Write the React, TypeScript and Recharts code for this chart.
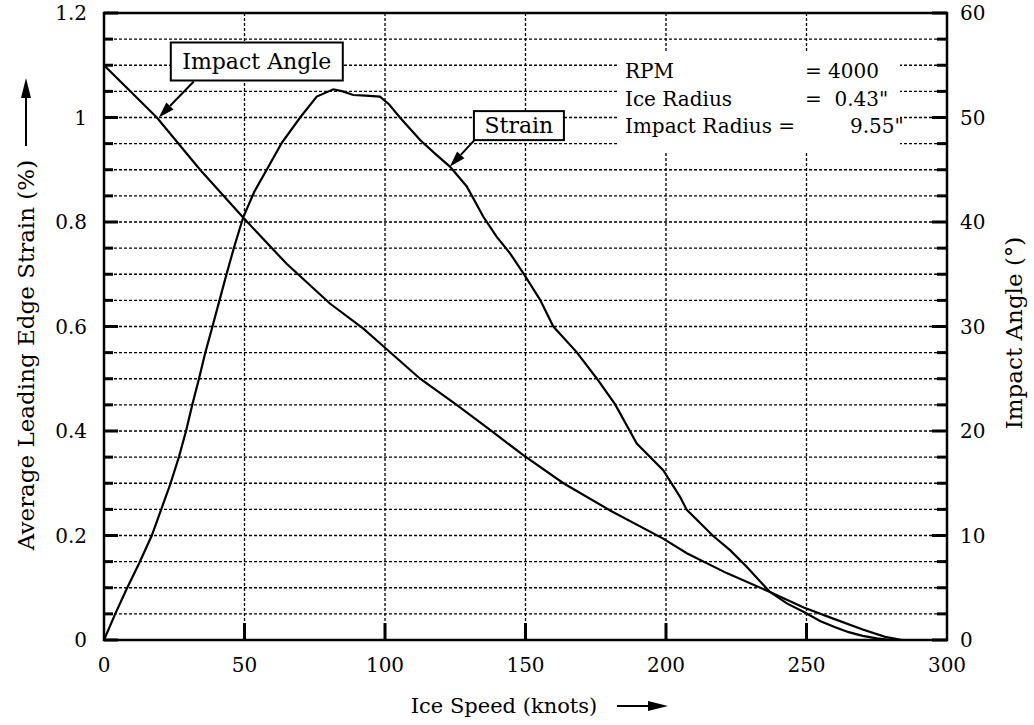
import React from "react";
import {
  LineChart,
  Line,
  XAxis,
  YAxis,
  CartesianGrid,
  ReferenceArea,
  ReferenceDot,
} from "recharts";

const FONT = "'DejaVu Serif', serif";

// Ice speed (knots) vs average leading edge strain (%)
const strainSpeed = [
  0, 4, 8.1, 12.6, 17, 20.3, 23.7, 26.7, 29.2, 31.4, 33.8, 36.1, 38.6, 41.1,
  43.6, 46.2, 49.6, 53.5, 57.9, 63.2, 69.8, 75.7, 81.6, 85, 88.7, 93, 98.2,
  101.5, 105.3, 112.5, 118, 123.1, 129.1, 135, 139.7, 144.5, 149.2, 155.2,
  159.9, 168.2, 175.3, 181.9, 189.6, 199, 205, 207.4, 216.8, 222.8, 228.7, 237,
  243, 248.9, 255, 260, 265, 270, 275, 280, 286,
];
const strainValue = [
  0, 0.05, 0.098, 0.148, 0.2, 0.249, 0.3, 0.351, 0.4, 0.45, 0.5, 0.551, 0.6,
  0.65, 0.7, 0.75, 0.81, 0.858, 0.9, 0.951, 1.0, 1.04, 1.054, 1.05, 1.043,
  1.042, 1.04, 1.025, 1.0, 0.957, 0.93, 0.906, 0.868, 0.81, 0.772, 0.74, 0.702,
  0.651, 0.6, 0.551, 0.501, 0.451, 0.376, 0.325, 0.274, 0.249, 0.199, 0.172,
  0.14, 0.092, 0.07, 0.054, 0.036, 0.025, 0.015, 0.008, 0.003, 0, 0,
];

// Ice speed (knots) vs impact angle (degrees)
const angleSpeed = [
  0, 18.8, 34.2, 49.6, 65, 80.4, 92.3, 98.2, 112.5, 125.5, 137.4, 149.2, 163.5,
  180.1, 199, 207.4, 221.6, 237, 249, 260, 270, 278, 284,
];
const angleValue = [
  55, 50, 45, 40.4, 36, 32.2, 29.8, 28.4, 25, 22.5, 20.1, 17.7, 15, 12.4, 9.7,
  8.3, 6.4, 4.6, 3.1, 2.0, 1.0, 0.3, 0,
];

const speedTicks = [0, 50, 100, 150, 200, 250, 300];
const strainTicks = [
  0, 0.05, 0.1, 0.15, 0.2, 0.25, 0.3, 0.35, 0.4, 0.45, 0.5, 0.55, 0.6, 0.65,
  0.7, 0.75, 0.8, 0.85, 0.9, 0.95, 1, 1.05, 1.1, 1.15, 1.2,
];
const strainLabels = [0, 0.2, 0.4, 0.6, 0.8, 1, 1.2];
const angleTicks = [
  0, 2.5, 5, 7.5, 10, 12.5, 15, 17.5, 20, 22.5, 25, 27.5, 30, 32.5, 35, 37.5,
  40, 42.5, 45, 47.5, 50, 52.5, 55, 57.5, 60,
];
const angleLabels = [0, 10, 20, 30, 40, 50, 60];

const params = [
  ["RPM", "= 4000"],
  ["Ice Radius", "=  0.43\""],
  ["Impact Radius =", "9.55\""],
];

const strainData = strainSpeed.map((s, i) => ({ speed: s, strain: strainValue[i] }));
const angleData = angleSpeed.map((s, i) => ({ speed: s, angle: angleValue[i] }));

const near = (a: number, b: number) => Math.abs(a - b) < 1e-6;

function Arrow({ x1, y1, x2, y2, head = 16, half = 5 }: any) {
  const dx = x2 - x1;
  const dy = y2 - y1;
  const len = Math.hypot(dx, dy);
  const ux = dx / len;
  const uy = dy / len;
  const bx = x2 - ux * head;
  const by = y2 - uy * head;
  return (
    <g>
      <line x1={x1} y1={y1} x2={bx} y2={by} stroke="#000" strokeWidth={2} />
      <polygon
        points={`${x2},${y2} ${bx - uy * half},${by + ux * half} ${bx + uy * half},${by - ux * half}`}
        fill="#000"
      />
    </g>
  );
}

function LeftTick({ x, y, payload }: any) {
  const v = payload.value;
  const major = strainLabels.some((l) => near(l, v));
  return (
    <g>
      <rect x={104} y={y - 1.5} width={major ? 14 : 9} height={3} fill="#000" />
      {major && (
        <text x={87} y={y} dy="0.35em" textAnchor="end" fontFamily={FONT} fontSize={20} fill="#000">
          {String(Math.round(v * 10) / 10)}
        </text>
      )}
    </g>
  );
}

function RightTick({ x, y, payload }: any) {
  const v = payload.value;
  const major = angleLabels.some((l) => near(l, v));
  const w = major ? 15 : 10;
  return (
    <g>
      <rect x={947 - w} y={y - 1.5} width={w} height={3} fill="#000" />
      {major && (
        <text x={960} y={y} dy="0.35em" textAnchor="start" fontFamily={FONT} fontSize={20} fill="#000">
          {v}
        </text>
      )}
    </g>
  );
}

function BottomTick({ x, y, payload }: any) {
  const inner = payload.value > 0 && payload.value < 300;
  return (
    <g>
      {inner && <rect x={x - 1.5} y={623} width={3} height={17} fill="#000" />}
      <text x={x} y={665} dy="0.35em" textAnchor="middle" fontFamily={FONT} fontSize={20} fill="#000">
        {payload.value}
      </text>
    </g>
  );
}

function TopTick({ x, payload }: any) {
  const inner = payload.value > 0 && payload.value < 300;
  if (!inner) return <g />;
  return <rect x={x - 1.5} y={13} width={3} height={17} fill="#000" />;
}

function Callout({ cx, cy, text, w, h, bx, by, tx, ty }: any) {
  return (
    <g>
      <rect x={cx + bx - w / 2} y={cy + by - h / 2} width={w} height={h} fill="#fff" stroke="#000" strokeWidth={2} />
      <text
        x={cx + bx}
        y={cy + by}
        dy="0.35em"
        textAnchor="middle"
        fontFamily={FONT}
        fontSize={22}
        fill="#000"
      >
        {text}
      </text>
      <Arrow x1={cx + tx} y1={cy + ty} x2={cx} y2={cy} />
    </g>
  );
}

export default function App() {
  return (
    <div style={{ position: "absolute", left: 0, top: 0, width: 1034, height: 725, background: "#fff" }}>
      <LineChart width={1034} height={725} margin={{ top: 13, right: 0, bottom: 0, left: 0 }}>
        <CartesianGrid
          xAxisId="bottom"
          yAxisId="left"
          stroke="#000"
          strokeWidth={1.3}
          strokeDasharray="3 2"
        />
        <XAxis
          xAxisId="bottom"
          dataKey="speed"
          type="number"
          domain={[0, 300]}
          ticks={speedTicks}
          interval={0}
          height={85}
          axisLine={false}
          tickLine={false}
          tickSize={0}
          tickMargin={0}
          tick={(p: any) => <BottomTick {...p} />}
        />
        <XAxis
          xAxisId="top"
          orientation="top"
          dataKey="speed"
          type="number"
          domain={[0, 300]}
          ticks={speedTicks}
          interval={0}
          height={0}
          axisLine={false}
          tickLine={false}
          tickSize={0}
          tickMargin={0}
          tick={(p: any) => <TopTick {...p} />}
        />
        <YAxis
          yAxisId="left"
          type="number"
          domain={[0, 1.2]}
          ticks={strainTicks}
          interval={0}
          width={104}
          axisLine={false}
          tickLine={false}
          tickSize={0}
          tickMargin={0}
          tick={(p: any) => <LeftTick {...p} />}
        />
        <YAxis
          yAxisId="right"
          orientation="right"
          type="number"
          domain={[0, 60]}
          ticks={angleTicks}
          interval={0}
          width={87}
          axisLine={false}
          tickLine={false}
          tickSize={0}
          tickMargin={0}
          tick={(p: any) => <RightTick {...p} />}
        />
        <ReferenceArea
          xAxisId="bottom"
          yAxisId="left"
          x1={0}
          x2={300}
          y1={0}
          y2={1.2}
          fill="none"
          fillOpacity={0}
          stroke="#000"
          strokeWidth={2.5}
        />
        <Line
          xAxisId="bottom"
          yAxisId="left"
          data={strainData}
          dataKey="strain"
          type="linear"
          stroke="#000"
          strokeWidth={2.2}
          dot={false}
          isAnimationActive={false}
        />
        <Line
          xAxisId="bottom"
          yAxisId="right"
          data={angleData}
          dataKey="angle"
          type="linear"
          stroke="#000"
          strokeWidth={2.2}
          dot={false}
          isAnimationActive={false}
        />
        <ReferenceDot
          xAxisId="bottom"
          yAxisId="right"
          x={19.5}
          y={50}
          r={0}
          shape={(p: any) => (
            <Callout cx={p.cx} cy={p.cy} text="Impact Angle" w={172} h={38} bx={98} by={-56} tx={35} ty={-36} />
          )}
        />
        <ReferenceDot
          xAxisId="bottom"
          yAxisId="left"
          x={123.1}
          y={0.906}
          r={0}
          shape={(p: any) => (
            <Callout cx={p.cx} cy={p.cy} text="Strain" w={90} h={29} bx={69} by={-41} tx={25} ty={-27} />
          )}
        />
      </LineChart>
      <svg
        width={1034}
        height={725}
        style={{ position: "absolute", left: 0, top: 0, pointerEvents: "none" }}
      >
        <rect x={618} y={52} width={282} height={100} fill="#fff" />
        {params.map(([k, v], i) => (
          <g key={k}>
            <text x={625} y={71 + i * 27.5} dy="0.35em" fontFamily={FONT} fontSize={20} fill="#000">
              {k}
            </text>
            <text
              x={i === 2 ? 850 : 805}
              y={71 + i * 27.5}
              dy="0.35em"
              fontFamily={FONT}
              fontSize={20}
              fill="#000"
              style={{ whiteSpace: "pre" }}
            >
              {v}
            </text>
          </g>
        ))}
        <text x={504} y={706} dy="0.35em" textAnchor="middle" fontFamily={FONT} fontSize={21} fill="#000">
          Ice Speed (knots)
        </text>
        <Arrow x1={617} y1={706} x2={668} y2={706} head={20} half={5} />
        <g transform="translate(26, 355) rotate(-90)">
          <text x={0} y={0} dy="0.35em" textAnchor="middle" fontFamily={FONT} fontSize={23} fill="#000">
            Average Leading Edge Strain (%)
          </text>
        </g>
        <Arrow x1={26} y1={146} x2={26} y2={78} head={20} half={5} />
        <g transform="translate(1014, 333) rotate(-90)">
          <text x={0} y={0} dy="0.35em" textAnchor="middle" fontFamily={FONT} fontSize={23} fill="#000">
            Impact Angle (°)
          </text>
        </g>
      </svg>
    </div>
  );
}
